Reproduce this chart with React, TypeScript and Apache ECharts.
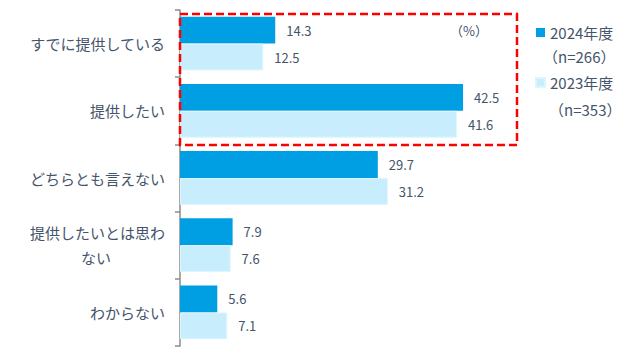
import React, { useEffect, useRef } from "react";
import * as echarts from "echarts";

const categories = [
  "すでに提供している",
  "提供したい",
  "どちらとも言えない",
  "提供したいとは思わ\nない",
  "わからない",
];
const series2024 = [14.3, 42.5, 29.7, 7.9, 5.6];
const series2023 = [12.5, 41.6, 31.2, 7.6, 7.1];
const seriesNames = ["2024年度", "2023年度"];
const sampleNotes = ["（n=266）", "（n=353）"];
const unitLabel = "（%）";

const FONT = "Noto Sans CJK JP";
const TEXT = "#44546A";

export default function App() {
  const ref = useRef<HTMLDivElement>(null);
  useEffect(() => {
    document.body.style.margin = "0";
    if (!ref.current) return;
    const chart = echarts.init(ref.current, null, { renderer: "svg" });
    const labelStyle = {
      show: true,
      position: "right" as const,
      distance: 11,
      color: TEXT,
      fontSize: 13,
      fontFamily: FONT,
    };
    chart.setOption({
      animation: false,
      textStyle: { fontFamily: FONT },
      grid: { left: 180, top: 10, width: 333, height: 336 },
      xAxis: { type: "value", min: 0, max: 50, show: false },
      yAxis: {
        type: "category",
        data: categories,
        inverse: true,
        axisLine: { show: true, lineStyle: { color: "#8C8C8C", width: 1.5 } },
        axisTick: { show: true, length: 5, lineStyle: { color: "#8C8C8C", width: 1.5 } },
        axisLabel: {
          margin: 15,
          color: TEXT,
          fontSize: 15,
          fontFamily: FONT,
          lineHeight: 25,
          formatter: (v: string) => {
            if (v.indexOf("\n") >= 0) {
              const [a, b] = v.split("\n");
              return `{a|${a}}\n{b|${b}}`;
            }
            return v;
          },
          rich: {
            a: { fontSize: 15, color: TEXT, fontFamily: FONT, lineHeight: 25 },
            b: { fontSize: 15, color: TEXT, fontFamily: FONT, lineHeight: 25, width: 138, align: "center" },
          },
        },
      },
      legend: {
        orient: "vertical",
        left: 530,
        top: 20,
        itemWidth: 9,
        itemHeight: 9,
        itemGap: 35,
        icon: "rect",
        textStyle: { color: TEXT, fontSize: 15, fontFamily: FONT },
        data: seriesNames,
      },
      graphic: [
        { type: "text", left: 543, top: 49, style: { text: sampleNotes[0], fill: TEXT, fontSize: 15, fontFamily: FONT } },
        { type: "text", left: 549, top: 102, style: { text: sampleNotes[1], fill: TEXT, fontSize: 15, fontFamily: FONT } },
        { type: "text", left: 450, top: 24, style: { text: unitLabel, fill: TEXT, fontSize: 13, fontFamily: FONT } },
        {
          type: "rect",
          shape: { x: 180, y: 14, width: 337, height: 131 },
          style: { fill: "none", stroke: "#FF0000", lineWidth: 2.5, lineDash: [8, 4] },
          z: 100,
        },
      ],
      series: [
        {
          name: seriesNames[0],
          type: "bar",
          data: series2024,
          barGap: "0%",
          barCategoryGap: "20%",
          itemStyle: { color: "#009EE2" },
          label: labelStyle,
        },
        {
          name: seriesNames[1],
          type: "bar",
          data: series2023,
          itemStyle: { color: "#C8EDFD", borderColor: "#DDF5FE", borderWidth: 1 },
          label: labelStyle,
        },
      ],
    });
    return () => chart.dispose();
  }, []);
  return <div ref={ref} style={{ width: 625, height: 356 }} />;
}
